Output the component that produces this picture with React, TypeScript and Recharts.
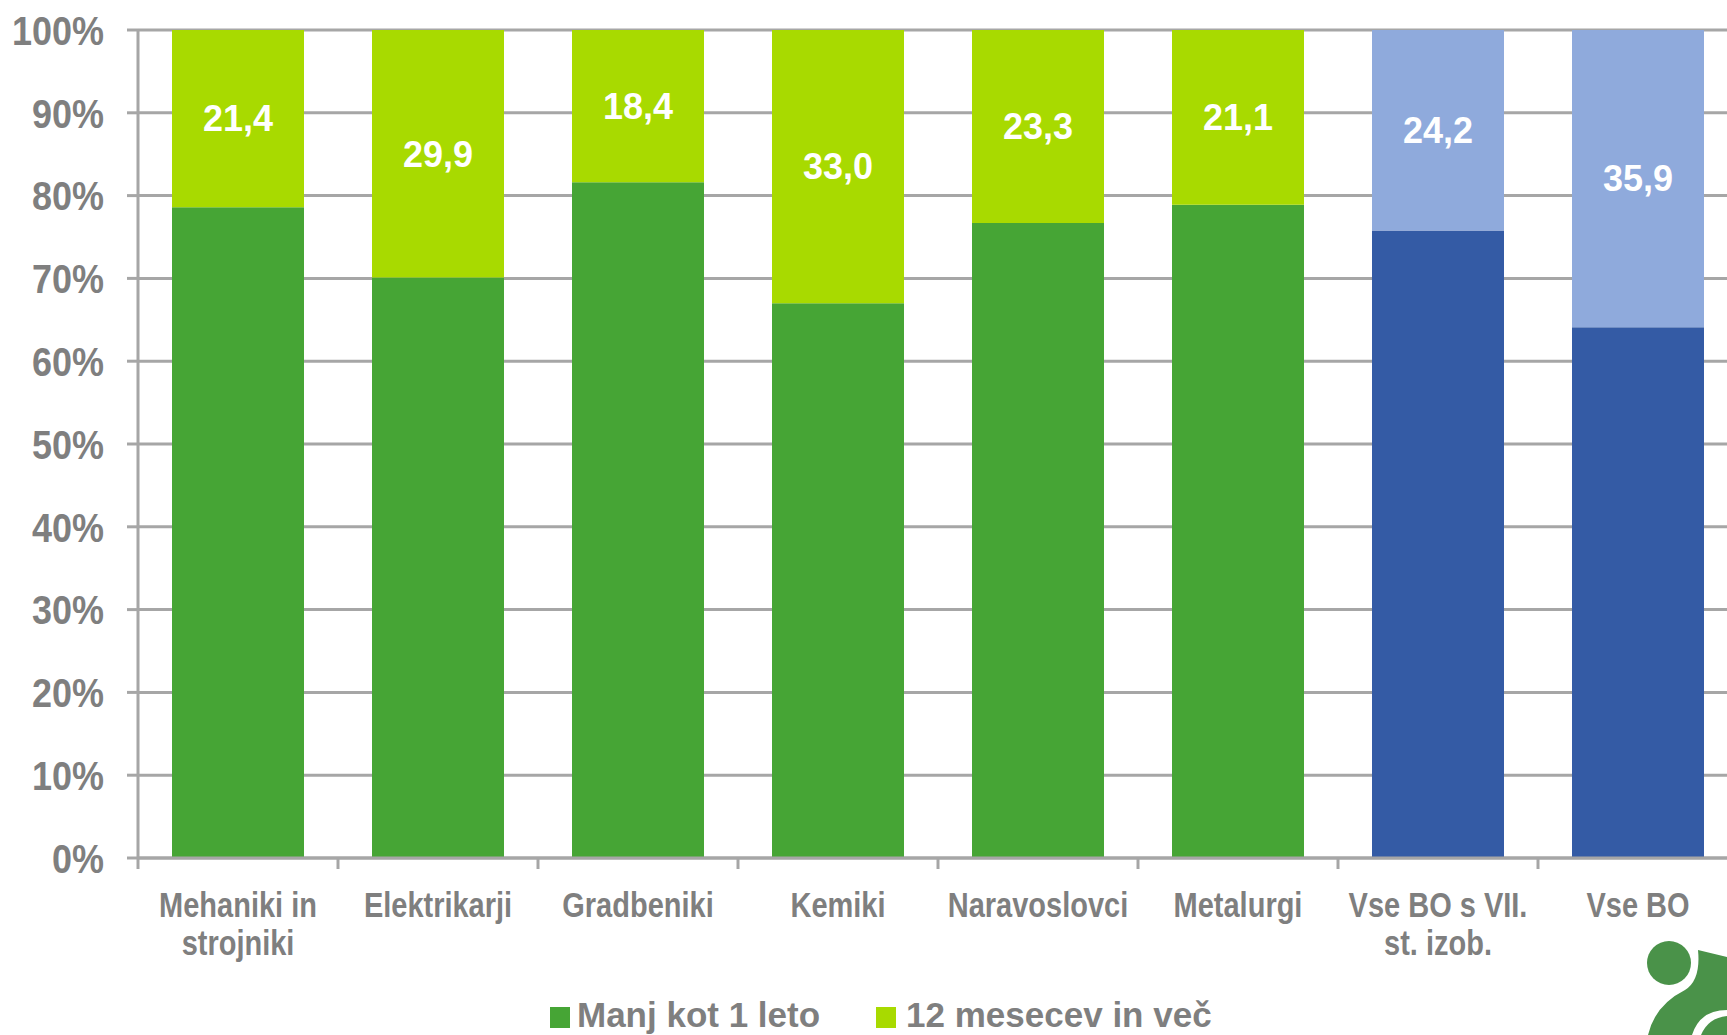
import { BarChart, Bar, XAxis, YAxis, CartesianGrid, Cell, LabelList, Legend } from 'recharts';

// kategorije (\n = prelom vrstice v oznaki)
const categories = [
  'Mehaniki in\nstrojniki',
  'Elektrikarji',
  'Gradbeniki',
  'Kemiki',
  'Naravoslovci',
  'Metalurgi',
  'Vse BO s VII.\nst. izob.',
  'Vse BO',
];
const lessThanYear = [78.6, 70.1, 81.6, 67.0, 76.7, 78.9, 75.8, 64.1];
const twelveOrMore = [21.4, 29.9, 18.4, 33.0, 23.3, 21.1, 24.2, 35.9];
const isTotal = [false, false, false, false, false, false, true, true];
const yTicks = [0, 10, 20, 30, 40, 50, 60, 70, 80, 90, 100];
const legendLabels = ['Manj kot 1 leto', '12 mesecev in več'];

const DARK_GREEN = '#46a535';
const LIGHT_GREEN = '#a8da00';
const DARK_BLUE = '#345ba5';
const LIGHT_BLUE = '#8faadc';
const AXIS = '#a6a6a6';
const TEXT = '#7f7f7f';
const FONT = '"Liberation Sans", Arial, sans-serif';

const CHART_W = 1760;
const CHART_H = 1035;
const Y_AXIS_W = 138;
const RIGHT = 22;
const BAND = (CHART_W - Y_AXIS_W - RIGHT) / categories.length;

const data = categories.map((name, i) => ({
  name,
  less: lessThanYear[i],
  more: twelveOrMore[i],
  total: isTotal[i],
}));

const YTick = ({ x, y, payload }: any) => (
  <text
    transform={`translate(${x},${y}) scale(1,1.15)`}
    textAnchor="end"
    dy="0.355em"
    fill={TEXT}
    fontSize={36}
    fontWeight="bold"
    fontFamily={FONT}
  >
    {payload.value}%
  </text>
);

const XTick = ({ x, y, payload }: any) => {
  const lines = String(payload.value).split('\n');
  return (
    <g>
      <line x1={x - BAND / 2} x2={x - BAND / 2} y1={y} y2={y + 11} stroke={AXIS} strokeWidth={3} />
      {lines.map((l, i) => (
        <text
          key={i}
          transform={`translate(${x},${y + 59 + i * 38}) scale(1,1.18)`}
          textAnchor="middle"
          fill={TEXT}
          fontSize={29}
          fontWeight="bold"
          fontFamily={FONT}
        >
          {l}
        </text>
      ))}
    </g>
  );
};

const LegendBox = () => (
  <div
    style={{
      display: 'flex',
      alignItems: 'center',
      height: 40,
      paddingLeft: 550,
      fontFamily: FONT,
      fontSize: 35,
      fontWeight: 'bold',
      color: TEXT,
    }}
  >
    {[DARK_GREEN, LIGHT_GREEN].map((c, i) => (
      <div key={i} style={{ display: 'flex', alignItems: 'center', marginRight: 56 }}>
        <div style={{ width: 20, height: 21, background: c, marginRight: i === 0 ? 7 : 10, marginTop: 4 }} />
        <span style={{ display: 'inline-block', lineHeight: '40px' }}>{legendLabels[i]}</span>
      </div>
    ))}
  </div>
);

const Logo = () => (
  <svg width={127} height={135} style={{ position: 'absolute', left: 1600, top: 900 }}>
    <circle cx={69} cy={63} r={22} fill="#4a9249" />
    <path d="M 98 50 L 127 57 L 127 110 Q 100 110 92 135 L 48 135 Q 55 105 85 90 Q 101 80 98 50 Z" fill="#4a9249" />
    <path d="M 101 135 Q 108 118 127 116 L 127 135 Z" fill="#4a9249" />
  </svg>
);

export default function App() {
  return (
    <div
      style={{
        position: 'absolute',
        left: 0,
        top: 0,
        width: 1727,
        height: 1035,
        overflow: 'hidden',
        background: '#fff',
      }}
    >
      <BarChart
        width={CHART_W}
        height={CHART_H}
        data={data}
        margin={{ top: 30, right: RIGHT, left: 0, bottom: 10 }}
        barCategoryGap="17%"
      >
        <CartesianGrid vertical={false} stroke={AXIS} strokeWidth={3} />
        <XAxis
          dataKey="name"
          interval={0}
          height={127}
          tickLine={false}
          tickSize={0}
          tickMargin={0}
          axisLine={{ stroke: AXIS, strokeWidth: 3 }}
          tick={<XTick />}
        />
        <YAxis
          width={Y_AXIS_W}
          domain={[0, 100]}
          ticks={yTicks}
          interval={0}
          tickSize={11}
          tickMargin={23}
          axisLine={{ stroke: AXIS, strokeWidth: 3 }}
          tickLine={{ stroke: AXIS, strokeWidth: 3 }}
          tick={<YTick />}
        />
        <Legend
          verticalAlign="bottom"
          wrapperStyle={{ left: 0, bottom: 0, width: 1727, height: 40 }}
          content={<LegendBox />}
        />
        <Bar dataKey="less" stackId="a" isAnimationActive={false}>
          {data.map((d, i) => (
            <Cell key={i} fill={d.total ? DARK_BLUE : DARK_GREEN} />
          ))}
        </Bar>
        <Bar dataKey="more" stackId="a" isAnimationActive={false}>
          {data.map((d, i) => (
            <Cell key={i} fill={d.total ? LIGHT_BLUE : LIGHT_GREEN} />
          ))}
          <LabelList
            dataKey="more"
            position="center"
            fill="#fff"
            fontSize={36}
            fontWeight="bold"
            fontFamily={FONT}
            formatter={(v: any) => Number(v).toFixed(1).replace('.', ',')}
          />
        </Bar>
      </BarChart>
      <Logo />
    </div>
  );
}
